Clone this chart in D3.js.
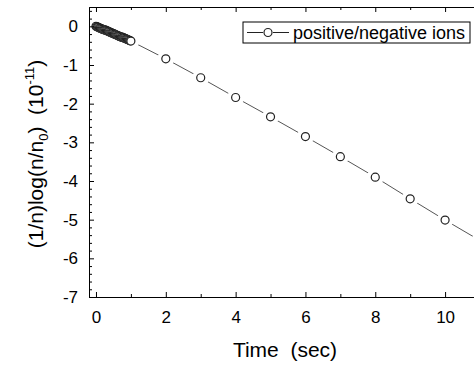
<!DOCTYPE html>
<html>
<head>
<meta charset="utf-8">
<script src="https://cdn.jsdelivr.net/npm/d3@7"></script>
<style>
  body { margin: 0; background: #fff; }
  text { font-family: "Liberation Sans", Arial, sans-serif; fill: #000; white-space: pre; }
</style>
</head>
<body>
<div id="chart"></div>
<script>
// time in seconds
const times = [0, 0.025, 0.05, 0.075, 0.1, 0.125, 0.15, 0.175, 0.2, 0.225, 0.25, 0.275, 0.3,
  0.325, 0.35, 0.375, 0.4, 0.425, 0.45, 0.475, 0.5, 0.525, 0.55, 0.575, 0.6, 0.625, 0.65,
  0.675, 0.7, 0.725, 0.75, 0.775, 0.8, 0.825, 0.85, 0.875, 0.9, 0.925, 0.95, 0.975,
  1, 2, 3, 4, 5, 6, 7, 8, 9, 10, 11];
// (1/n)log(n/n0) in units of 1e-11
const logRatio = [0, -0.01, -0.02, -0.03, -0.04, -0.05, -0.06, -0.07, -0.08, -0.09, -0.09,
  -0.1, -0.11, -0.12, -0.13, -0.14, -0.15, -0.16, -0.17, -0.18, -0.19, -0.2, -0.21, -0.22,
  -0.23, -0.24, -0.25, -0.26, -0.27, -0.28, -0.28, -0.29, -0.3, -0.31, -0.32, -0.33, -0.34,
  -0.35, -0.36, -0.37,
  -0.38, -0.84, -1.33, -1.84, -2.34, -2.85, -3.37, -3.9, -4.46, -5.01, -5.54];
const xTicks = [0, 2, 4, 6, 8, 10];
const yTicks = [0, -1, -2, -3, -4, -5, -6, -7];
const seriesName = "positive/negative ions";

const W = 474, H = 367;
const plot = { left: 89, top: 7, right: 480, bottom: 297 };

const svg = d3.select('#chart').append('svg')
  .attr('width', W).attr('height', H);

const x = d3.scaleLinear().domain([-0.2, 11]).range([plot.left, plot.right]);
const y = d3.scaleLinear().domain([-7, 0.5]).range([plot.bottom, plot.top]);

const pts = times.map((t, i) => [t, logRatio[i]]);

svg.append('clipPath').attr('id', 'clip')
  .append('rect')
  .attr('x', plot.left).attr('y', plot.top)
  .attr('width', plot.right - plot.left).attr('height', plot.bottom - plot.top);

const g = svg.append('g').attr('clip-path', 'url(#clip)');

const line = d3.line().x(d => x(d[0])).y(d => y(d[1]));
g.append('path')
  .datum(pts)
  .attr('fill', 'none')
  .attr('stroke', '#555')
  .attr('stroke-width', 1)
  .attr('d', line);

// white gaps round the markers
g.selectAll('.halo')
  .data(pts)
  .enter()
  .append('circle')
  .attr('cx', d => x(d[0]))
  .attr('cy', d => y(d[1]))
  .attr('r', 8.5)
  .attr('fill', '#fff');

g.selectAll('.pt')
  .data(pts)
  .enter()
  .append('circle')
  .attr('cx', d => x(d[0]))
  .attr('cy', d => y(d[1]))
  .attr('r', 4)
  .attr('fill', '#fff')
  .attr('stroke', '#222')
  .attr('stroke-width', 1.2);

// axes with inward ticks
const minorX = d3.range(1, 12, 2);
const minorY = d3.range(-70, 6, 2).map(v => v / 10).filter(v => !Number.isInteger(v));
const fmt = d => String(d);

function styleAxis(sel) {
  sel.select('.domain').attr('stroke', '#000').attr('stroke-width', 1);
  sel.selectAll('.tick line').attr('stroke', '#000').attr('stroke-width', 1);
  sel.selectAll('text').style('font-size', '17px').attr('font-family', null);
}

const axBottom = svg.append('g')
  .attr('transform', `translate(0,${plot.bottom})`)
  .call(d3.axisBottom(x).tickValues(xTicks).tickSizeInner(-5).tickSizeOuter(0).tickPadding(14).tickFormat(fmt));
styleAxis(axBottom);
svg.append('g')
  .attr('transform', `translate(0,${plot.bottom})`)
  .call(d3.axisBottom(x).tickValues(minorX).tickSizeInner(-3).tickSizeOuter(0).tickFormat(''))
  .call(styleAxis);

const axTop = svg.append('g')
  .attr('transform', `translate(0,${plot.top})`)
  .call(d3.axisTop(x).tickValues(xTicks).tickSizeInner(-5).tickSizeOuter(0).tickFormat(''));
styleAxis(axTop);
svg.append('g')
  .attr('transform', `translate(0,${plot.top})`)
  .call(d3.axisTop(x).tickValues(minorX).tickSizeInner(-3).tickSizeOuter(0).tickFormat(''))
  .call(styleAxis);

const axLeft = svg.append('g')
  .attr('transform', `translate(${plot.left},0)`)
  .call(d3.axisLeft(y).tickValues(yTicks).tickSizeInner(-5).tickSizeOuter(0).tickPadding(11).tickFormat(fmt));
styleAxis(axLeft);
svg.append('g')
  .attr('transform', `translate(${plot.left},0)`)
  .call(d3.axisLeft(y).tickValues(minorY).tickSizeInner(-3).tickSizeOuter(0).tickFormat(''))
  .call(styleAxis);

// axis titles
svg.append('text')
  .attr('x', 285).attr('y', 357)
  .attr('text-anchor', 'middle')
  .style('font-size', '21px')
  .text('Time  (sec)');

const yt = svg.append('text')
  .attr('transform', 'translate(43,154) rotate(-90)')
  .attr('text-anchor', 'middle')
  .style('font-size', '21px');
yt.append('tspan').text('(1/n)log(n/n');
yt.append('tspan').attr('dy', 5).style('font-size', '13px').text('0');
yt.append('tspan').attr('dy', -5).text(')  (10');
yt.append('tspan').attr('dy', -9).style('font-size', '13px').text('-11');
yt.append('tspan').attr('dy', 9).text(')');

// legend
const lg = svg.append('g');
lg.append('rect')
  .attr('x', 243).attr('y', 22).attr('width', 227).attr('height', 21)
  .attr('fill', '#fff').attr('stroke', '#000').attr('stroke-width', 1);
lg.append('line')
  .attr('x1', 247).attr('x2', 263).attr('y1', 32.5).attr('y2', 32.5)
  .attr('stroke', '#222');
lg.append('line')
  .attr('x1', 273).attr('x2', 289).attr('y1', 32.5).attr('y2', 32.5)
  .attr('stroke', '#222');
lg.append('circle')
  .attr('cx', 268).attr('cy', 32.5).attr('r', 4)
  .attr('fill', '#fff').attr('stroke', '#222').attr('stroke-width', 1.2);
lg.append('text')
  .attr('x', 293).attr('y', 39)
  .style('font-size', '18px')
  .text(seriesName);
</script>
</body>
</html>
